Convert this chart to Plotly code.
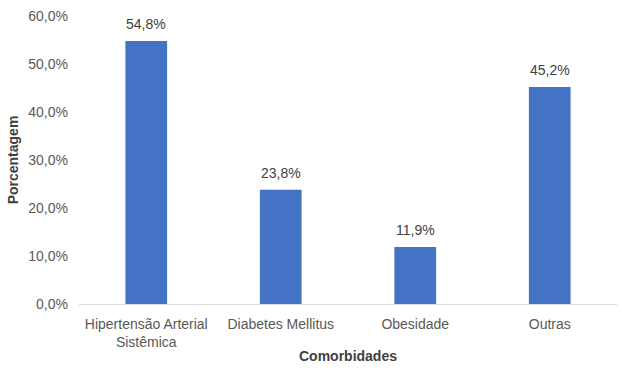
import plotly.graph_objects as go

categorias = ["Hipertensão Arterial<br>Sistêmica", "Diabetes Mellitus", "Obesidade", "Outras"]
porcentagens = [54.8, 23.8, 11.9, 45.2]
ticks_y = [0, 10, 20, 30, 40, 50, 60]
rotulos_y = [f"{v:.1f}%".replace(".", ",") for v in ticks_y]

fonte = "Liberation Sans, Arial, sans-serif"

fig = go.Figure(
    go.Bar(
        x=categorias,
        y=porcentagens,
        marker=dict(color="#4472C4", line=dict(width=0)),
        width=0.31,
        hoverinfo="skip",
    )
)

# value labels above each bar
for cat, val in zip(categorias, porcentagens):
    fig.add_annotation(
        x=cat,
        y=val,
        text=f"{val:.1f}%".replace(".", ","),
        showarrow=False,
        yanchor="bottom",
        yshift=7,
        font=dict(family=fonte, size=14, color="#404040"),
    )

fig.update_layout(
    width=622,
    height=370,
    margin=dict(l=79, r=5, t=16, b=66),
    paper_bgcolor="white",
    plot_bgcolor="white",
    showlegend=False,
    bargap=0.69,
    font=dict(family=fonte, size=14, color="#595959"),
)

fig.update_yaxes(
    range=[0, 60],
    tickvals=ticks_y,
    ticktext=rotulos_y,
    showgrid=False,
    zeroline=False,
    showline=False,
    ticks="",
    ticklabelstandoff=10,
    tickfont=dict(family=fonte, size=14, color="#595959"),
    title=dict(text="<b>Porcentagem</b>", font=dict(family=fonte, size=14, color="#404040"), standoff=6),
)

fig.update_xaxes(
    showline=True,
    linecolor="#D9D9D9",
    linewidth=1,
    ticks="",
    showgrid=False,
    ticklabelstandoff=7,
    tickfont=dict(family=fonte, size=14, color="#595959"),
    title=dict(text="<b>Comorbidades</b>", font=dict(family=fonte, size=14, color="#404040"), standoff=2),
)

fig.write_html("out.html")
